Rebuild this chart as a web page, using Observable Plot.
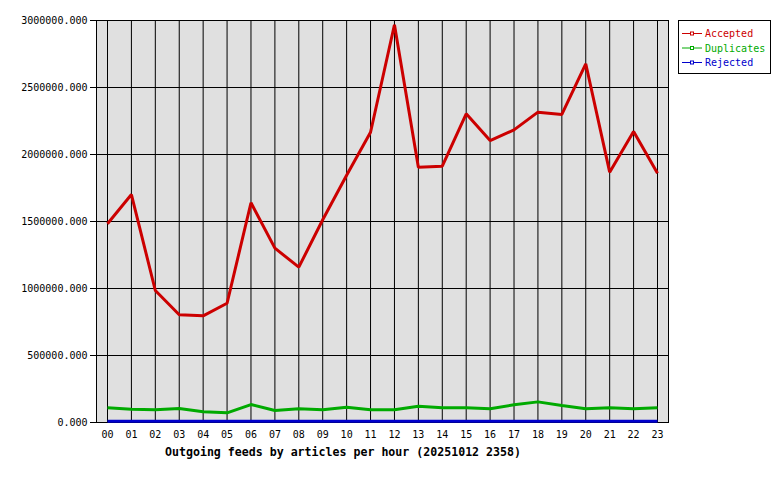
<!DOCTYPE html>
<html>
<head>
<meta charset="utf-8">
<script src="https://cdn.jsdelivr.net/npm/d3@7"></script>
<script src="https://cdn.jsdelivr.net/npm/@observablehq/plot@0.6"></script>
<style>
  html, body { margin: 0; padding: 0; background: #ffffff; }
  #chart { width: 780px; height: 480px; }
  svg { display: block; }
</style>
</head>
<body>
<div id="chart"></div>
<script>
const hours = ["00","01","02","03","04","05","06","07","08","09","10","11","12","13","14","15","16","17","18","19","20","21","22","23"];
const accepted = [1483000,1701000,985000,804000,796000,890000,1640000,1301000,1159000,1513000,1845000,2166000,2968000,1905000,1913000,2304000,2104000,2184000,2316000,2299000,2677000,1868000,2172000,1860000];
const duplicates = [110000,99000,95000,104000,80000,72000,134000,90000,102000,95000,114000,95000,95000,122000,110000,110000,102000,132000,154000,127000,102000,110000,102000,110000];
const rejected = [9000,9000,9000,9000,9000,9000,9000,9000,9000,9000,9000,9000,9000,9000,9000,9000,9000,9000,9000,9000,9000,9000,9000,9000];
const seriesNames = ["Accepted","Duplicates","Rejected"];
const seriesColors = ["#cc0000","#00aa00","#0000cc"];
const yTicks = [0,500000,1000000,1500000,2000000,2500000,3000000];
const title = "Outgoing feeds by articles per hour (20251012 2358)";

const seriesValues = [accepted, duplicates, rejected];
const rows = [];
seriesNames.forEach((name, s) => {
  hours.forEach((h, i) => rows.push({series: name, hour: i, value: seriesValues[s][i]}));
});
const hourIdx = hours.map((h, i) => i);
const font = "DejaVu Sans Mono, monospace";

const chart = Plot.plot({
  width: 780,
  height: 480,
  marginLeft: 96,
  marginRight: 112,
  marginTop: 20,
  marginBottom: 58,
  style: {fontFamily: font, fontSize: "10px", background: "#ffffff", color: "#000"},
  x: {type: "linear", domain: [-0.46, 23.46]},
  y: {domain: [0, 3000000]},
  color: {domain: seriesNames, range: seriesColors},
  marks: [
    Plot.frame({fill: "#e0e0e0"}),
    Plot.ruleX(hourIdx, {stroke: "#000", strokeWidth: 1}),
    Plot.ruleY(yTicks.filter(v => v > 0 && v < 3000000), {stroke: "#000", strokeWidth: 1}),
    Plot.frame({stroke: "#000", strokeWidth: 1}),
    Plot.line(rows, {x: "hour", y: "value", z: "series", stroke: "series", strokeWidth: 3, strokeLinejoin: "miter", strokeLinecap: "butt"}),
    Plot.axisY({ticks: yTicks, tickFormat: d => d.toFixed(3), tickSize: 6, tickPadding: 3, label: null, fontSize: 10}),
    Plot.axisX({ticks: hourIdx, tickFormat: i => hours[i], tickSize: 0, tickPadding: 8, label: null, fontSize: 10})
  ]
});
document.getElementById("chart").appendChild(chart);

const svg = d3.select(chart);
svg.append("text")
  .attr("x", 343).attr("y", 456)
  .attr("text-anchor", "middle")
  .attr("font-family", font)
  .attr("font-weight", "bold")
  .attr("font-size", 11.6)
  .attr("fill", "#000")
  .text(title);

const lg = svg.append("g").attr("text-anchor", "start");
lg.append("rect").attr("x", 678.5).attr("y", 20.5).attr("width", 92).attr("height", 53)
  .attr("fill", "#fff").attr("stroke", "#000");
seriesNames.forEach((name, i) => {
  const y = 33.5 + i * 14.5;
  lg.append("line").attr("x1", 682).attr("x2", 702).attr("y1", y).attr("y2", y)
    .attr("stroke", seriesColors[i]).attr("stroke-width", 1);
  lg.append("rect").attr("x", 690.5).attr("y", y - 1.5).attr("width", 3).attr("height", 3)
    .attr("fill", "#fff").attr("stroke", seriesColors[i]).attr("stroke-width", 1);
  lg.append("text").attr("x", 705).attr("y", y).attr("dy", "0.35em")
    .attr("text-anchor", "start")
    .attr("font-family", font).attr("font-size", 10).attr("fill", seriesColors[i])
    .text(name);
});
</script>
</body>
</html>
